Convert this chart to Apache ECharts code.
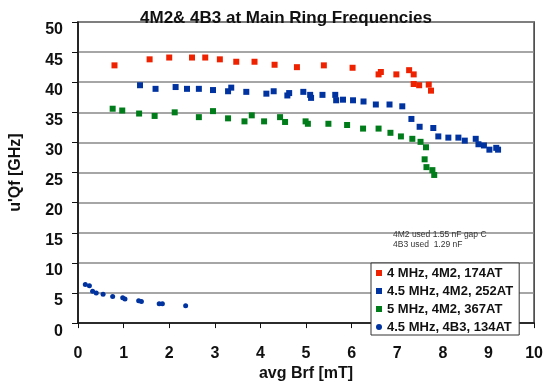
<!DOCTYPE html>
<html>
<head>
<meta charset="utf-8">
<script src="https://cdn.jsdelivr.net/npm/echarts@6/dist/echarts.min.js"></script>
<style>html,body{margin:0;padding:0;background:#fff}#c{width:546px;height:387px}</style>
</head>
<body>
<div id="c"></div>
<script>
// ---- data ----
const titleText = "4M2& 4B3 at Main Ring Frequencies";
const xTicks = [0,1,2,3,4,5,6,7,8,9,10];
const yTicks = [0,5,10,15,20,25,30,35,40,45,50];
const seriesNames = ["4 MHz, 4M2, 174AT", "4.5 MHz, 4M2, 252AT", "5 MHz, 4M2, 367AT", "4.5 MHz, 4B3, 134AT"];

const redX = [0.80,1.57,2.00,2.50,2.79,3.11,3.47,3.87,4.31,4.80,5.39,6.02,6.59,6.64,6.98,7.26,7.36,7.36,7.48,7.69,7.74];
const redY = [42.8,43.8,44.1,44.1,44.1,43.8,43.4,43.4,42.9,42.5,42.8,42.4,41.3,41.7,41.3,42.0,41.3,39.7,39.5,39.6,38.6];

const blueX = [1.36,1.70,2.14,2.39,2.65,2.96,3.29,3.36,3.69,4.13,4.29,4.59,4.63,4.94,5.09,5.11,5.36,5.64,5.66,5.81,6.03,6.26,6.53,6.83,7.11,7.31,7.49,7.79,7.90,8.12,8.34,8.48,8.72,8.78,8.90,9.02,9.17,9.21];
const blueY = [39.5,38.9,39.2,38.9,38.9,38.7,38.5,39.1,38.4,38.1,38.5,37.8,38.2,38.4,37.9,37.4,37.9,37.9,37.0,37.1,37.0,36.8,36.3,36.3,36.0,33.9,32.6,32.4,31.0,30.8,30.8,30.3,30.6,29.7,29.5,28.8,29.1,28.8];

const greenX = [0.76,0.97,1.34,1.68,2.12,2.65,2.96,3.29,3.65,3.81,4.08,4.43,4.54,4.99,5.04,5.49,5.90,6.25,6.59,6.85,7.08,7.33,7.51,7.63,7.60,7.64,7.77,7.81];
const greenY = [35.6,35.3,34.8,34.4,35.0,34.2,35.2,34.0,33.5,34.5,33.5,34.2,33.4,33.5,33.1,33.1,32.9,32.3,32.3,31.6,31.0,30.6,30.1,29.2,27.2,25.9,25.4,24.6];

const circX = [0.16,0.25,0.32,0.40,0.55,0.76,0.98,1.03,1.33,1.39,1.78,1.85,2.36];
const circY = [6.4,6.2,5.3,5.0,4.8,4.4,4.2,4.0,3.7,3.6,3.2,3.2,2.9];

const noteLines = ["4M2 used 1.55 nF gap C", "4B3 used  1.29 nF"];
// ---- chart ----
const zip = (a, b) => a.map((v, i) => [v, b[i]]);
const FONT = "Liberation Sans";
const colors = ["#ee2200", "#0033a0", "#007d1a", "#0033a0"];

const chart = echarts.init(document.getElementById('c'), null, {renderer: 'canvas'});
chart.setOption({
  animation: false,
  backgroundColor: '#fff',
  title: {
    text: titleText, left: 281, top: 5, textAlign: 'center',
    textStyle: {fontFamily: FONT, fontSize: 17, fontWeight: 'bold', color: '#111'}
  },
  grid: {left: 75, right: 7, top: 22, bottom: 57, show: true, borderColor: '#333', borderWidth: 1.5, backgroundColor: '#fff'},
  xAxis: {
    type: 'value', min: 0, max: 10, interval: 1,
    name: 'avg Brf [mT]', nameLocation: 'middle', nameGap: 37,
    nameTextStyle: {fontFamily: FONT, fontSize: 16, fontWeight: 'bold', color: '#111'},
    axisLine: {show: true, lineStyle: {color: '#111', width: 1.5}},
    axisTick: {show: true, inside: false, length: 5, lineStyle: {color: '#111', width: 1}},
    axisLabel: {fontFamily: FONT, fontSize: 16, fontWeight: 'bold', color: '#111', margin: 22,
      formatter: v => xTicks.includes(v) ? String(v) : ''},
    splitLine: {show: false}
  },
  yAxis: {
    type: 'value', min: 0, max: 50, interval: 5,
    name: "u'Qf [GHz]", nameLocation: 'middle', nameGap: 54, nameRotate: 90,
    nameTextStyle: {fontFamily: FONT, fontSize: 16, fontWeight: 'bold', color: '#111'},
    axisLine: {show: true, lineStyle: {color: '#111', width: 1.5}},
    axisTick: {show: true, inside: false, length: 6, lineStyle: {color: '#111', width: 1}},
    axisLabel: {fontFamily: FONT, fontSize: 16, fontWeight: 'bold', color: '#111', margin: 15, verticalAlign: 'top',
      formatter: v => yTicks.includes(v) ? String(v) : ''},
    splitLine: {show: true, lineStyle: {color: '#888', width: 1.5}}
  },
  legend: {
    orient: 'vertical', left: 371, top: 263,
    backgroundColor: '#fff', borderColor: '#333', borderWidth: 1,
    padding: [3, 6, 1, 5], itemGap: 4, itemWidth: 6, itemHeight: 6,
    textStyle: {fontFamily: FONT, fontSize: 13, fontWeight: 'bold', color: '#111', lineHeight: 14},
    data: [
      {name: seriesNames[0], icon: 'rect'},
      {name: seriesNames[1], icon: 'rect'},
      {name: seriesNames[2], icon: 'rect'},
      {name: seriesNames[3], icon: 'circle'}
    ]
  },
  graphic: [
    {type: 'text', left: 393, top: 230, z: 10, style: {text: noteLines[0], font: '8.5px "Liberation Sans"', fill: '#333'}},
    {type: 'text', left: 393, top: 240, z: 10, style: {text: noteLines[1], font: '8.5px "Liberation Sans"', fill: '#333'}}
  ],
  series: [
    {name: seriesNames[0], type: 'scatter', symbol: 'rect', symbolSize: 6, itemStyle: {color: colors[0], opacity: 1}, data: zip(redX, redY)},
    {name: seriesNames[1], type: 'scatter', symbol: 'rect', symbolSize: 6, itemStyle: {color: colors[1], opacity: 1}, data: zip(blueX, blueY)},
    {name: seriesNames[2], type: 'scatter', symbol: 'rect', symbolSize: 6, itemStyle: {color: colors[2], opacity: 1}, data: zip(greenX, greenY)},
    {name: seriesNames[3], type: 'scatter', symbol: 'circle', symbolSize: 5, itemStyle: {color: colors[3], opacity: 1}, data: zip(circX, circY)}
  ]
});
</script>
</body>
</html>
